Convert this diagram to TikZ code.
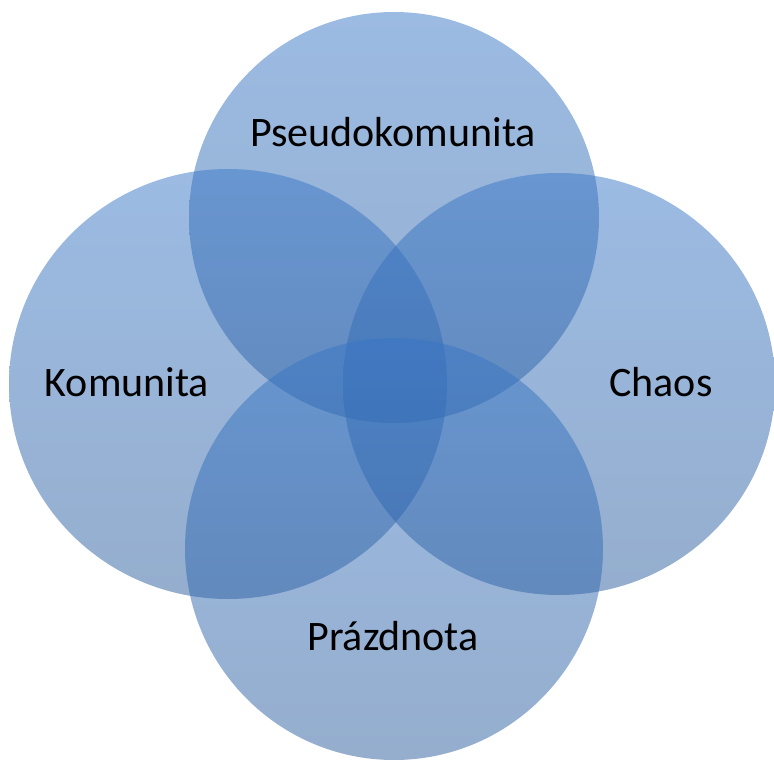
\documentclass[tikz,border=0pt]{standalone}
\usepackage{fontspec}
\setmainfont{Carlito}
\usetikzlibrary{shapes.geometric}
\definecolor{ctop}{RGB}{57,119,199}
\definecolor{cbot}{RGB}{43,93,157}
\tikzset{
  venn/.style={ellipse, draw=none, inner sep=0pt, top color=ctop, bottom color=cbot, shading=axis, fill opacity=0.5},
  lbl/.style={text=black, font=\fontsize{42}{50}\selectfont, inner sep=0pt}
}
\begin{document}
\begin{tikzpicture}[x=1pt,y=-1pt]
\useasboundingbox (0,0) rectangle (774,760);
\node[venn, minimum width=410pt, minimum height=411pt] (ctopc) at (394,217.5) {};
\node[venn, minimum width=438pt, minimum height=430pt] (cleft) at (228,384) {};
\node[venn, minimum width=432pt, minimum height=422pt] (cright) at (559,384) {};
\node[venn, minimum width=418pt, minimum height=422pt] (cbottom) at (394,549) {};
\node[lbl] (lp) at (393,132) {Pseudokomunita};
\node[lbl] (lk) at (127,382) {Komunita};
\node[lbl] (lc) at (661,382) {Chaos};
\node[lbl] (lpr) at (393,636) {Prázdnota};
\end{tikzpicture}
\end{document}
